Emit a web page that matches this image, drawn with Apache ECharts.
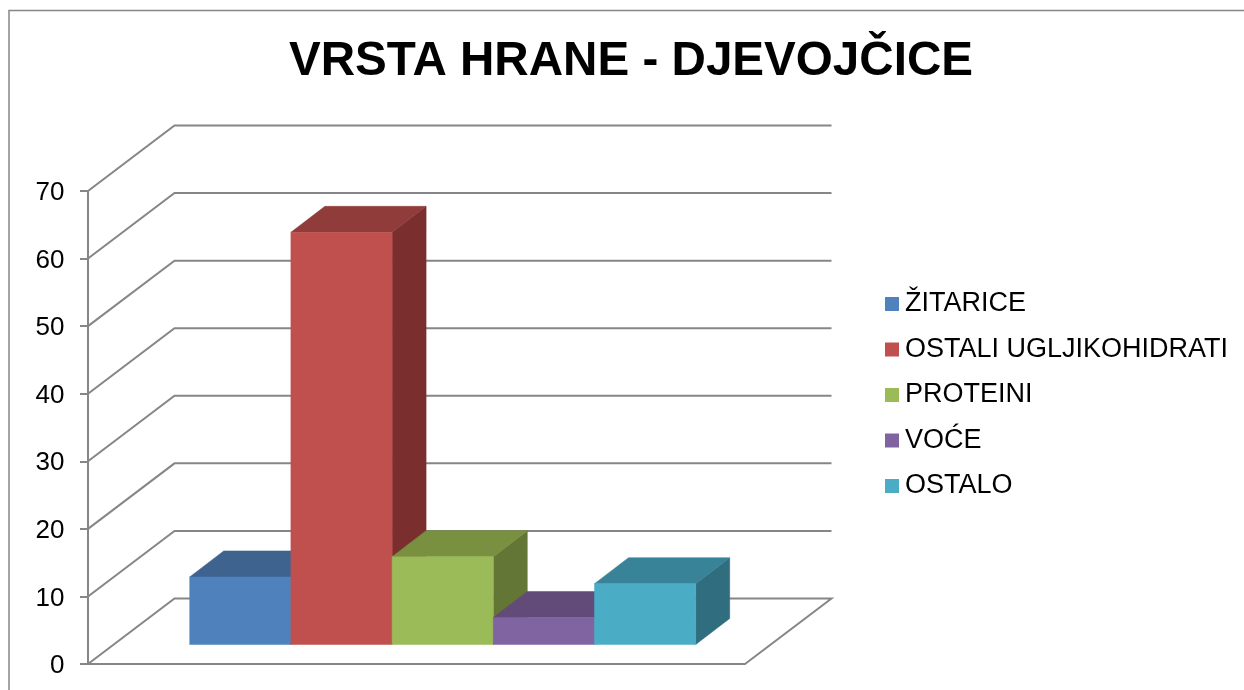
<!DOCTYPE html>
<html>
<head>
<meta charset="utf-8">
<title>VRSTA HRANE - DJEVOJČICE</title>
<style>
  html, body { margin: 0; padding: 0; background: #fff; }
  #chart { width: 1244px; height: 690px; }
</style>
<script src="https://cdn.jsdelivr.net/npm/echarts@6/dist/echarts.min.js"></script>
</head>
<body>
<div id="chart"></div>
<script>
// data
const foodNames = ['ŽITARICE', 'OSTALI UGLJIKOHIDRATI', 'PROTEINI', 'VOĆE', 'OSTALO']
const foodValues = [10, 61, 13, 4, 9]
const yTicks = [0, 10, 20, 30, 40, 50, 60, 70]

// front, top and side face of each column
const frontColors = ['#4F81BD', '#C0504D', '#9BBB59', '#8064A2', '#4BACC6']
const topColors = ['#3E638F', '#8F3C3A', '#78903F', '#624A79', '#388397']
const sideColors = ['#355578', '#7A2F2E', '#647636', '#624A79', '#2F6D7F']

// fake 3d projection, in pixels
const wallDepth = { x: 86.5, y: -65.5 }
const barDepth = { x: 34, y: -26 }
const barShift = { x: 26.2, y: -19.5 }
const barBandShare = 101.2 / 657

const lineColor = '#868686'
const fontFamily = '"Liberation Sans", Arial, sans-serif'

function polygon(points, color) {
  return { type: 'polygon', shape: { points: points }, style: { fill: color, stroke: color, lineWidth: 0.5 }, silent: true }
}

// one gridline: along the side wall, then along the back wall
function renderWall(params, api) {
  const grid = params.coordSys
  const y = api.coord([0, api.value(1)])[1]
  const x0 = grid.x
  const x1 = grid.x + grid.width
  const points = [[x0, y], [x0 + wallDepth.x, y + wallDepth.y], [x1 + wallDepth.x, y + wallDepth.y]]
  // the floor is closed on the right
  if (api.value(1) === 0) {
    points.push([x1, y])
  }
  return {
    type: 'polyline',
    shape: { points: points },
    style: { fill: 'none', stroke: lineColor, lineWidth: 2 },
    silent: true
  }
}

function renderBar(seriesIndex) {
  return function (params, api) {
    const width = api.size([1, 0])[0] * barBandShare
    const center = api.coord([0, 0])[0] + barShift.x
    const left = center - width * foodNames.length / 2 + width * seriesIndex
    const right = left + width
    const bottom = api.coord([0, 0])[1] + barShift.y
    const top = api.coord([0, api.value(1)])[1] + barShift.y
    const dx = barDepth.x
    const dy = barDepth.y
    return {
      type: 'group',
      children: [
        polygon([[right, top], [right + dx, top + dy], [right + dx, bottom + dy], [right, bottom]], sideColors[seriesIndex]),
        polygon([[left, top], [left + dx, top + dy], [right + dx, top + dy], [right, top]], topColors[seriesIndex]),
        polygon([[left, top], [right, top], [right, bottom], [left, bottom]], frontColors[seriesIndex])
      ]
    }
  }
}

const chart = echarts.init(document.getElementById('chart'))

chart.setOption({
  animation: false,
  backgroundColor: '#fff',
  textStyle: { fontFamily: fontFamily },
  title: {
    text: 'VRSTA HRANE - DJEVOJČICE',
    left: 284,
    top: 33,
    textStyle: { fontFamily: fontFamily, fontSize: 47.6, fontWeight: 'bold', color: '#000' }
  },
  legend: {
    data: foodNames,
    orient: 'vertical',
    left: 885,
    top: 290.5,
    padding: 0,
    itemWidth: 14,
    itemHeight: 14,
    itemGap: 18.5,
    itemStyle: { borderWidth: 0 },
    icon: 'rect',
    selectedMode: false,
    textStyle: { fontFamily: fontFamily, fontSize: 27, color: '#000', lineHeight: 26, padding: [0, 0, 0, 1] }
  },
  graphic: [
    {
      type: 'polyline',
      shape: { points: [[9, 690], [9, 10.5], [1244, 10.5]] },
      style: { fill: 'none', stroke: lineColor, lineWidth: 1.5 },
      silent: true
    }
  ],
  grid: { left: 88, top: 191, width: 657, height: 473 },
  xAxis: {
    type: 'category',
    data: [''],
    axisLine: { show: true, lineStyle: { color: lineColor, width: 2 } },
    axisTick: { show: false },
    axisLabel: { show: false }
  },
  yAxis: {
    type: 'value',
    min: 0,
    max: 70,
    interval: 10,
    axisLine: { show: true, lineStyle: { color: lineColor, width: 2 } },
    axisTick: { show: true, length: 8, lineStyle: { color: lineColor, width: 2 } },
    axisLabel: {
      margin: 23.5,
      formatter: '{tick|{value}}',
      rich: {
        tick: { fontFamily: fontFamily, fontSize: 26, color: '#000', padding: [4, 0, 0, 0] }
      }
    },
    splitLine: { show: false }
  },
  series: [
    {
      type: 'custom',
      name: 'walls',
      renderItem: renderWall,
      data: yTicks.map(t => [0, t]),
      encode: { x: 0, y: 1 },
      clip: false,
      silent: true
    }
  ].concat(foodNames.map((name, i) => ({
    type: 'custom',
    name: name,
    renderItem: renderBar(i),
    data: [[0, foodValues[i]]],
    encode: { x: 0, y: 1 },
    itemStyle: { color: frontColors[i] },
    clip: false
  })))
})
</script>
</body>
</html>
